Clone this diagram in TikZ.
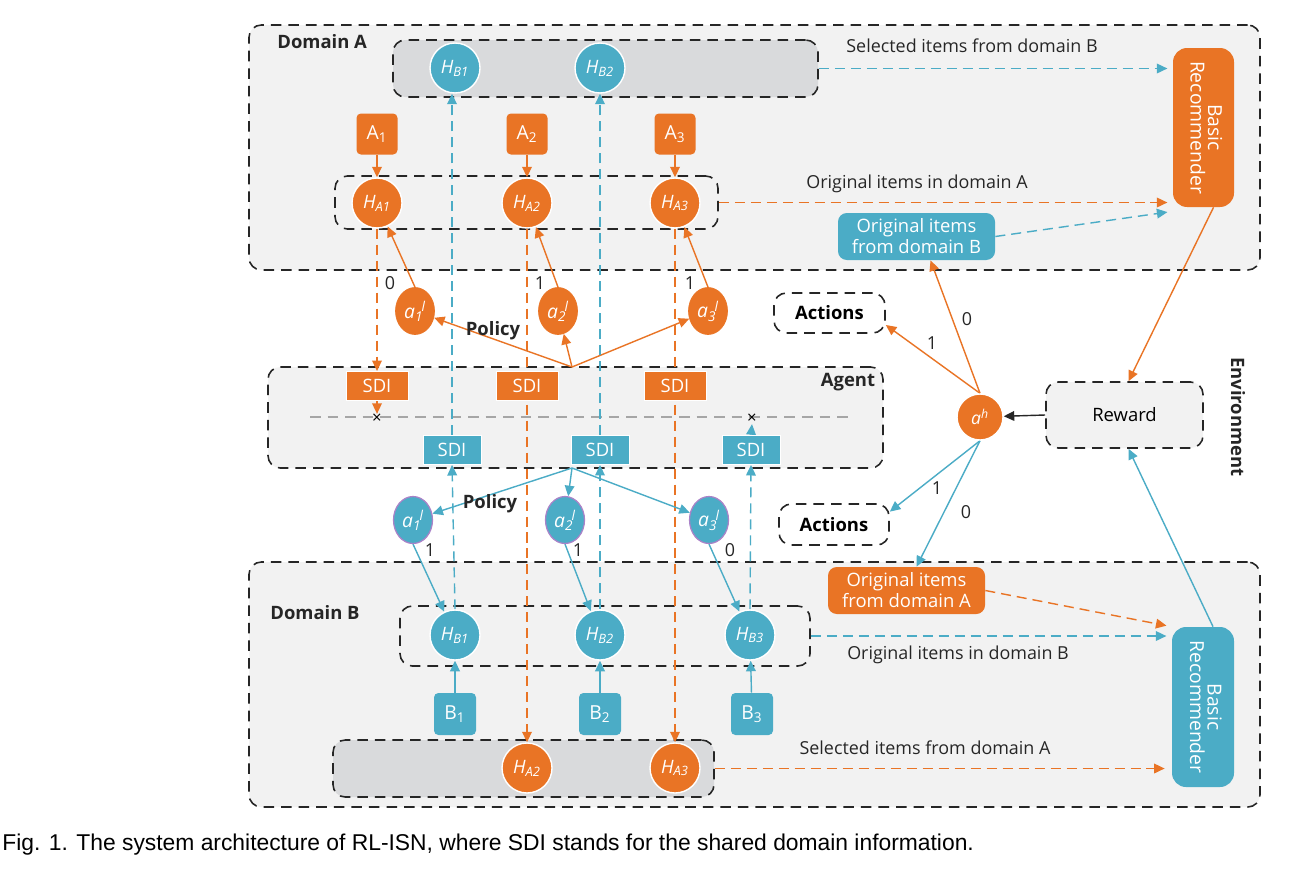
\documentclass[tikz,border=0pt]{standalone}
\usepackage{fontspec}
\usepackage{graphicx}
\setmainfont{Open Sans}
\newfontfamily\capfont{Liberation Sans}
\usetikzlibrary{arrows.meta,shapes.geometric}
\newdimen\pxu \pxu=0.02cm
\definecolor{org}{RGB}{233,116,37}
\definecolor{blu}{RGB}{75,172,198}
\definecolor{bgg}{RGB}{242,242,242}
\definecolor{dkg}{RGB}{217,218,220}
\definecolor{pur}{RGB}{170,130,200}
\pgfdeclarelayer{bg}
\pgfdeclarelayer{lines}
\pgfsetlayers{bg,lines,main}
\tikzset{
  every node/.style={inner sep=0pt, font=\fontsize{10}{12}\selectfont},
  sz/.style 2 args={minimum width=#1\pxu, minimum height=#2\pxu},
  region/.style={draw=black!85, line width=0.9pt, dash pattern=on 6pt off 4pt, rounded corners=7pt, fill=bgg},
  hbox/.style={draw=black!85, line width=0.9pt, dash pattern=on 6pt off 4pt, rounded corners=7pt},
  ocirc/.style={circle, fill=org, draw=white, line width=0.8pt, minimum size=50\pxu, text=white, font=\fontsize{10.5}{12}\selectfont\itshape},
  bcirc/.style={circle, fill=blu, draw=white, line width=0.8pt, minimum size=50\pxu, text=white, font=\fontsize{10.5}{12}\selectfont\itshape},
  oell/.style={ellipse, fill=org, draw=org, minimum width=39\pxu, minimum height=47\pxu, text=white, font=\fontsize{11}{12}\selectfont\itshape},
  bell/.style={ellipse, fill=blu, draw=pur, line width=0.7pt, minimum width=39\pxu, minimum height=47\pxu, text=white, font=\fontsize{11}{12}\selectfont\itshape},
  obox/.style={fill=org, text=white, rounded corners=2.5pt, font=\fontsize{11}{12}\selectfont},
  bbox/.style={fill=blu, text=white, rounded corners=2.5pt, font=\fontsize{11}{12}\selectfont},
  osdi/.style={fill=org, draw=white, line width=0.5pt, text=white, sz={62}{29}, font=\fontsize{10.5}{12}\selectfont},
  bsdi/.style={fill=blu, draw=white, line width=0.5pt, text=white, sz={58}{29}, font=\fontsize{10.5}{12}\selectfont},
  lbl/.style={font=\fontsize{10.2}{12}\selectfont, text=black!85},
  blbl/.style={font=\fontsize{10.5}{12}\selectfont\bfseries, text=black!85},
  tip/.style={-{Triangle[length=6pt,width=5.5pt]}},
  oarr/.style={draw=org, line width=0.8pt, tip},
  barr/.style={draw=blu, line width=0.8pt, tip},
  odash/.style={oarr, dash pattern=on 5.7pt off 3.4pt},
  bdash/.style={barr, dash pattern=on 5.7pt off 3.4pt},
}
\newcommand{\alab}[1]{a\textsubscript{#1}\kern-0.1em\textsuperscript{l}}
\begin{document}
\begin{tikzpicture}[x=0.02cm,y=-0.02cm]
\useasboundingbox (0,0) rectangle (1293,879);

% ---------- regions ----------
\begin{pgfonlayer}{bg}
\fill[white] (0,0) rectangle (1293,879);
\node[region, sz={1011}{245}] (domA) at (754.5,147.5) {};
\node[region, sz={1011}{245}] (domB) at (754.5,684.5) {};
\node[region, sz={615}{101}] (agent) at (575.5,417.5) {};
\node[region, fill=dkg, sz={425}{57}] (selB) at (605.5,68.5) {};
\node[region, fill=dkg, sz={381}{57}] (selA) at (523.5,768.5) {};
\node[hbox, sz={383}{53}] (rowA) at (526.5,202.5) {};
\node[hbox, sz={410}{60}] (rowB) at (605,636) {};
\end{pgfonlayer}

\node[blbl, anchor=west] (lDA) at (277,42) {Domain A};
\node[blbl, anchor=west] (lDB) at (270,613) {Domain B};
\node[blbl] (lAg) at (848,382) {Agent};
\node[blbl, rotate=-90] (lEnv) at (1238,417) {Environment};

% ---------- domain A ----------
\node[bcirc] (HB1t) at (455,68) {H\textsubscript{B1}};
\node[bcirc] (HB2t) at (600,68) {H\textsubscript{B2}};
\node[obox, sz={41}{41}] (A1) at (377,134) {A\textsubscript{1}};
\node[obox, sz={41}{41}] (A2) at (527,134) {A\textsubscript{2}};
\node[obox, sz={41}{41}] (A3) at (675,134) {A\textsubscript{3}};
\node[ocirc] (HA1) at (377,203) {H\textsubscript{A1}};
\node[ocirc] (HA2) at (527,203) {H\textsubscript{A2}};
\node[ocirc] (HA3) at (675,203) {H\textsubscript{A3}};
\node[obox, rounded corners=8pt, sz={61}{159}] (recA) at (1203.5,127.5)
  {\rotatebox{-90}{\begin{tabular}{@{}c@{}}Basic\\[-2pt]Recommender\end{tabular}}};
\node[bbox, rounded corners=5pt, sz={157}{47}, align=center, font=\fontsize{10.5}{12}\selectfont] (origB) at (916.5,236.5) {Original items\\from domain B};
\node[lbl] (tSelB) at (972,46) {Selected items from domain B};
\node[lbl] (tOrA) at (917,184) {Original items in domain A};

% ---------- upper policy ----------
\node[oell] (a1o) at (415,311) {\alab{1}};
\node[oell] (a2o) at (558,311) {\alab{2}};
\node[oell] (a3o) at (708,311) {\alab{3}};
\node[blbl] (pol1) at (493,331) {Policy};
\coordinate (po) at (572,367);
\node[lbl] (l0a) at (390,283) {0};
\node[lbl] (l1a) at (540,283) {1};
\node[lbl] (l1b) at (690,283) {1};

% ---------- agent ----------
\node[osdi] (So1) at (377,386) {SDI};
\node[osdi] (So2) at (527,386) {SDI};
\node[osdi] (So3) at (675,386) {SDI};
\node[bsdi] (Sb1) at (452,450) {SDI};
\node[bsdi] (Sb2) at (600,450) {SDI};
\node[bsdi] (Sb3) at (751,450) {SDI};
\coordinate (g1) at (310,417);
\coordinate (g2) at (848,417);
\node[font=\fontsize{9.5}{9}\selectfont] (x1) at (377,419) {×};
\node[font=\fontsize{9.5}{9}\selectfont] (x2) at (752,419) {×};

% ---------- lower policy ----------
\node[bell] (a1b) at (413,520) {\alab{1}};
\node[bell] (a2b) at (565,520) {\alab{2}};
\node[bell] (a3b) at (709,520) {\alab{3}};
\node[blbl] (pol2) at (490,504) {Policy};
\coordinate (pb) at (572,468);
\node[lbl] (m1a) at (430,550) {1};
\node[lbl] (m1b) at (578,550) {1};
\node[lbl] (m0a) at (730,550) {0};

% ---------- domain B ----------
\node[bcirc] (HB1) at (455,635) {H\textsubscript{B1}};
\node[bcirc] (HB2) at (600,635) {H\textsubscript{B2}};
\node[bcirc] (HB3) at (750,635) {H\textsubscript{B3}};
\node[bbox, sz={42}{42}] (B1) at (455,714) {B\textsubscript{1}};
\node[bbox, sz={42}{42}] (B2) at (600,714) {B\textsubscript{2}};
\node[bbox, sz={42}{42}] (B3) at (752,714) {B\textsubscript{3}};
\node[ocirc] (HA2b) at (527,768) {H\textsubscript{A2}};
\node[ocirc] (HA3b) at (675,768) {H\textsubscript{A3}};
\node[bbox, rounded corners=8pt, sz={62}{160}] (recB) at (1203,707)
  {\rotatebox{-90}{\begin{tabular}{@{}c@{}}Basic\\[-2pt]Recommender\end{tabular}}};
\node[obox, rounded corners=5pt, sz={157}{47}, align=center, font=\fontsize{10.5}{12}\selectfont] (origA) at (906.5,590.5) {Original items\\from domain A};
\node[lbl] (tOrB) at (958,655) {Original items in domain B};
\node[lbl] (tSelA) at (925,748) {Selected items from domain A};

% ---------- environment ----------
\node[ocirc, minimum size=46\pxu, font=\fontsize{10}{11}\selectfont\itshape] (ah) at (980,417) {a\textsuperscript{h}};
\node[region, sz={157}{66}, font=\fontsize{10.5}{12}\selectfont] (reward) at (1124.5,415) {Reward};
\node[region, fill=white, sz={111}{40}, font=\fontsize{10.5}{12}\selectfont\bfseries] (act1) at (829.5,313) {Actions};
\node[region, fill=white, sz={110}{41}, font=\fontsize{10.5}{12}\selectfont\bfseries] (act2) at (834,524.5) {Actions};
\node[lbl] (e1a) at (932,343) {1};
\node[lbl] (e0a) at (967,319) {0};
\node[lbl] (e1b) at (937,488) {1};
\node[lbl] (e0b) at (966,512) {0};

% ---------- caption ----------
\node[anchor=west, font=\capfont\fontsize{13}{15}\selectfont] (cap) at (2,845)
  {Fig. 1. The system architecture of RL-ISN, where SDI stands for the shared domain information.};

% ---------- connectors ----------
\begin{pgfonlayer}{lines}
\draw[gray!70, line width=0.6pt, dash pattern=on 6pt off 4pt] (g1) -- (g2);
% A_i -> H_Ai
\draw[oarr] (A1) -- (HA1);
\draw[oarr] (A2) -- (HA2);
\draw[oarr] (A3) -- (HA3);
% a^l -> H_A
\draw[oarr] (a1o.north) -- (HA1);
\draw[oarr] (a2o.north) -- (HA2);
\draw[oarr] (a3o.north) -- (HA3);
% policy
\draw[oarr] (po) -- (a1o);
\draw[oarr] (po) -- (a2o);
\draw[oarr] (po) -- (a3o);
% H_A dashed down
\draw[odash] (HA1.south) -- (So1.north);
\draw[odash] (So1.south) -- (x1.north);
\draw[odash] (HA2.south) -- (HA2b.north);
\draw[odash] (HA3.south) -- (HA3b.north);
% blue SDI up
\draw[bdash] (Sb1.north) -- (Sb1.north |- HB1t.south);
\draw[bdash] (Sb2.north) -- (HB2t.south);
\draw[bdash] (Sb3.north) -- (x2.south);
\draw[bdash] (HB1.north) -- (Sb1.south);
\draw[bdash] (HB2.north) -- (Sb2.south);
\draw[bdash] (HB3.north) -- (Sb3.south);
% lower policy
\draw[barr] (pb) -- (a1b);
\draw[barr] (pb) -- (a2b);
\draw[barr] (pb) -- (a3b);
\draw[barr] (a1b.south) -- (HB1);
\draw[barr] (a2b.south) -- (HB2);
\draw[barr] (a3b.south) -- (HB3);
% B_i -> H_Bi
\draw[barr] (B1) -- (HB1);
\draw[barr] (B2) -- (HB2);
\draw[barr] (B3) -- (HB3);
% to recommenders
\draw[bdash, shorten >=3pt] (selB.east) -- (selB.east -| recA.west);
\draw[odash, shorten >=3pt] (rowA.east) -- (rowA.east -| recA.west);
\draw[bdash, shorten >=3pt] (origB.east) -- ([yshift=-4\pxu]recA.south west);
\draw[bdash, shorten >=3pt] (rowB.east) -- (rowB.east -| recB.west);
\draw[odash, shorten >=4pt] (selA.east) -- (selA.east -| recB.west);
\draw[odash, shorten >=3pt] (origA.east) -- (recB.north west);
% recommenders -> reward
\draw[oarr] ([xshift=10\pxu]recA.south) -- ([xshift=4\pxu]reward.north);
\draw[barr] ([xshift=10\pxu]recB.north) -- ([xshift=4\pxu]reward.south);
% reward -> a^h
\draw[draw=black!85, line width=0.8pt, tip] (reward.west) -- (ah);
% a^h outputs
\draw[oarr] (ah.north) -- (act1.-12);
\draw[oarr] (ah.north) -- ([xshift=14\pxu]origB.south);
\draw[barr] (ah.south) -- (act2.13);
\draw[barr] (ah.south) -- ([xshift=10\pxu]origA.north);
\end{pgfonlayer}
\end{tikzpicture}
\end{document}
